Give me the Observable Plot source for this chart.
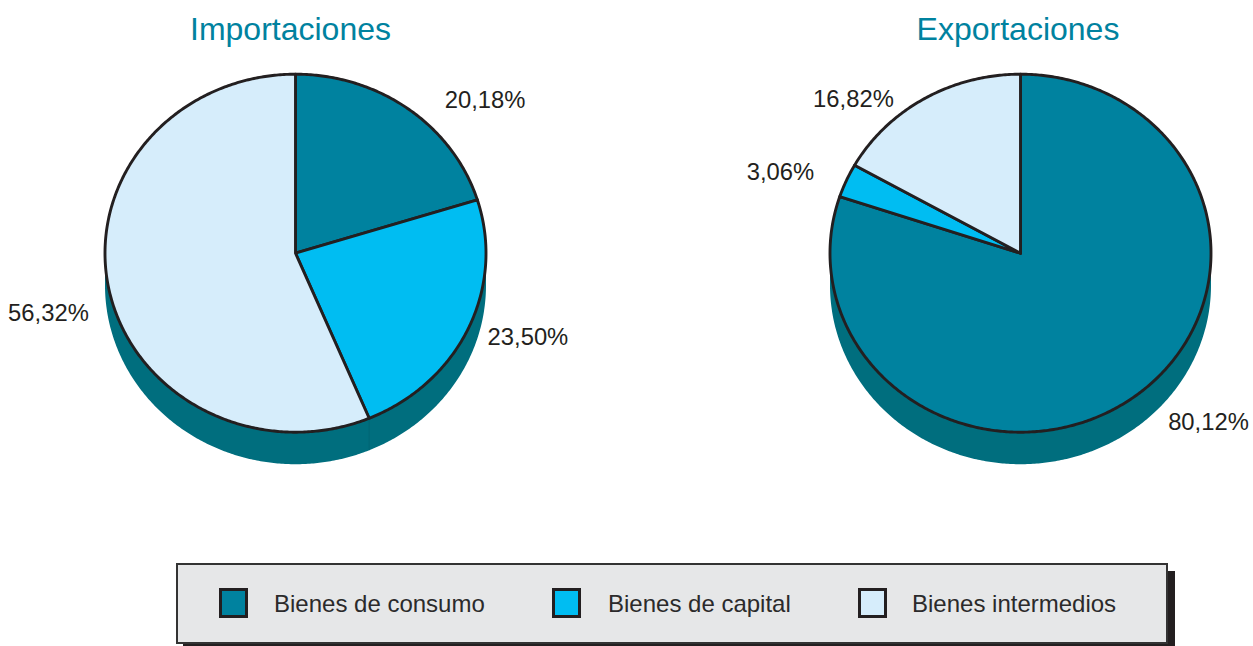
<!DOCTYPE html>
<html lang="es">
<head>
<meta charset="utf-8">
<script src="https://cdn.jsdelivr.net/npm/d3@7"></script>
<script src="https://cdn.jsdelivr.net/npm/@observablehq/plot@0.6"></script>
<style>
  html, body { margin: 0; padding: 0; background: #fff; overflow: hidden; }
  #chart svg { display: block; }
  .legend {
    position: absolute; left: 176px; top: 562.5px; width: 988px; height: 77.5px;
    background: #e6e7e8; border: 2.5px solid #333; box-shadow: 7px 8px 0 #231f20;
    font: 24px "Liberation Sans", Arial, sans-serif; color: #2b2a2b;
  }
  .legend span { position: absolute; top: 25px; white-space: nowrap; line-height: 27px; }
  .legend i { position: absolute; top: 23px; width: 23px; height: 24px; border: 3px solid #231f20; }
</style>
</head>
<body>
<div id="chart"></div>
<script>
const categories = ["Bienes de consumo", "Bienes de capital", "Bienes intermedios"];
const importaciones = [20.18, 23.50, 56.32];
const exportaciones = [80.12, 3.06, 16.82];
const labelsImportaciones = ["20,18%", "23,50%", "56,32%"];
const labelsExportaciones = ["80,12%", "3,06%", "16,82%"];
const colors = ["#00829f", "#00bdf2", "#d6edfb"];
const sideColor = "#006e7e", inkColor = "#231f20";

// layout only
const W = 1253, H = 555, CY = 252.7, RX = 190.5, RY = 179, DEPTH = 32;
const pies = [
  {name: "Importaciones", cx: 295, titleX: 290, values: importaciones, labels: labelsImportaciones,
   nudges: [[76.7, -8.2], [59.7, 9.1], [-60.3, 25.1]]},
  {name: "Exportaciones", cx: 1020, titleX: 1017.5, values: exportaciones, labels: labelsExportaciones,
   nudges: [[76.6, 24.3], [-65.9, -8], [-71, 1]]}
];

const pt = (cx, cy, a) => ({x: cx + RX * Math.sin(a), y: cy - RY * Math.cos(a)});
const arc = (cx, cy, a0, a1) => {
  const n = Math.max(2, Math.ceil(Math.abs(a1 - a0) / 0.01));
  return d3.range(n + 1).map(i => pt(cx, cy, a0 + (a1 - a0) * i / n));
};

const wedges = [], sides = [], seams = [], labels = [], titles = [];
for (const p of pies) {
  const total = d3.sum(p.values);
  titles.push({name: p.name, x: p.titleX, y: 29});
  sides.push(...[
    ...arc(p.cx, CY + DEPTH, Math.PI / 2, 3 * Math.PI / 2),
    ...arc(p.cx, CY, 3 * Math.PI / 2, Math.PI / 2)
  ].map(d => ({...d, pie: p.name})));
  let acc = 0;
  p.values.forEach((v, i) => {
    const a0 = acc / total * 2 * Math.PI;
    acc += v;
    const a1 = acc / total * 2 * Math.PI;
    const key = p.name + i;
    const c = {x: p.cx, y: CY};
    [c, ...arc(p.cx, CY, a0, a1), c].forEach(d => wedges.push({...d, key, category: categories[i]}));
    const mid = pt(p.cx, CY, (a0 + a1) / 2);
    labels.push({text: p.labels[i], x: mid.x + p.nudges[i][0], y: mid.y + p.nudges[i][1]});
    if (Math.cos(a1) < 0 && Math.sin(a1) > -1 && i < p.values.length - 1) {
      const top = pt(p.cx, CY, a1), bot = pt(p.cx, CY + DEPTH, a1);
      seams.push({x1: top.x, y1: top.y, x2: bot.x, y2: bot.y});
    }
  });
}

const chart = Plot.plot({
  width: W, height: H, margin: 0,
  x: {domain: [0, W], range: [0, W], axis: null},
  y: {domain: [0, H], range: [0, H], axis: null},
  color: {domain: categories, range: colors},
  style: {background: "transparent"},
  marks: [
    Plot.line(sides, {x: "x", y: "y", z: "pie", fill: sideColor, stroke: "none", curve: "linear"}),
    Plot.link(seams, {x1: "x1", y1: "y1", x2: "x2", y2: "y2", stroke: "#005f6e", strokeWidth: 0.6}),
    Plot.line(wedges, {x: "x", y: "y", z: "key", fill: "category", stroke: inkColor, strokeWidth: 2.9,
      strokeLinejoin: "round", curve: "linear"}),
    Plot.text(labels, {x: "x", y: "y", text: "text", fontSize: 23.8, fill: inkColor,
      fontFamily: "'Liberation Sans', Arial, sans-serif"}),
    Plot.text(titles, {x: "x", y: "y", text: "name", fontSize: 32, fill: colors[0],
      fontFamily: "'Liberation Sans', Arial, sans-serif"})
  ]
});
document.getElementById("chart").append(chart);

const legend = d3.select("body").append("div").attr("class", "legend");
const swatchX = [41, 374, 680], textX = [96, 430, 734];
categories.forEach((c, i) => {
  legend.append("i").style("left", swatchX[i] + "px").style("background", colors[i]);
  legend.append("span").style("left", textX[i] + "px").text(c);
});
</script>
</body>
</html>
